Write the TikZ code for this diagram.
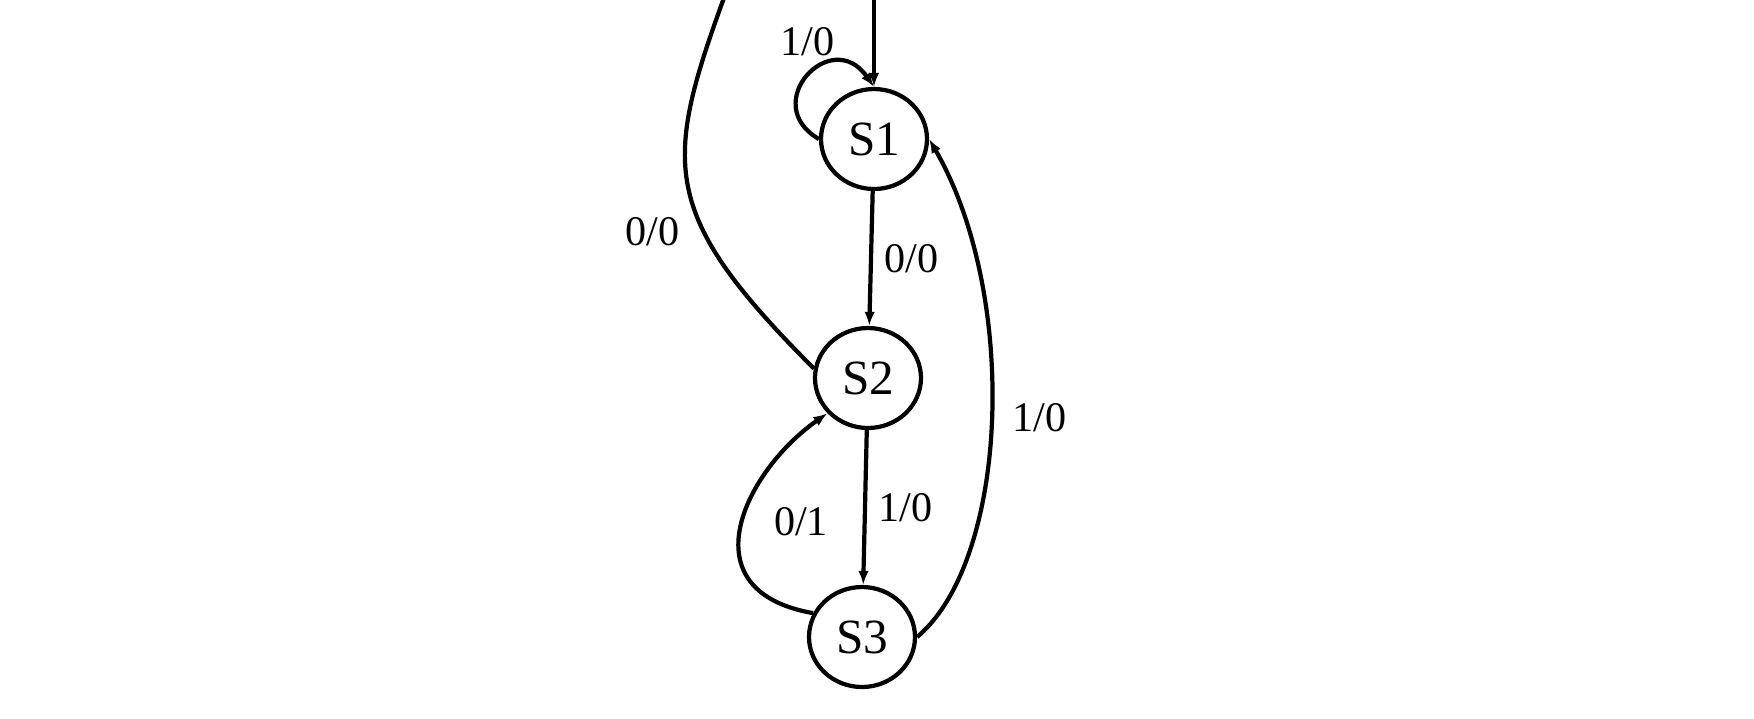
\documentclass[tikz,border=0pt]{standalone}
\usepackage{fontspec}
\setmainfont{Liberation Serif}
\usetikzlibrary{automata, arrows.meta, positioning, shapes.geometric}

\begin{document}
\begin{tikzpicture} [node distance = 2.39cm, on grid, auto,
  every state/.style = {ellipse, minimum width = 1.06cm, minimum height = 1cm,
    inner sep = 0pt, line width = 1.2pt, font = \fontsize{14}{16}\selectfont},
  font = \fontsize{12}{14}\selectfont]

\useasboundingbox (0,0) rectangle (17.54,-7.18);

\node (s1) [state] at (8.74,-1.39) {S1};
\node (s2) [state, below = of s1, xshift = -0.06cm] {S2};
\node (s3) [state, below = 2.59cm of s2, xshift = -0.06cm] {S3};

% ends at the top edge of the picture
\coordinate (in) at (8.74,0.5);
\coordinate (s0) at (7.25,0.05);

\path [-{Latex[length=4pt]}, line width=1.2pt]
  (in) edge (s1);
\path [-{Latex[length=4pt]}, line width=1.2pt]
  (s1.west) edge [out=150, in=125, out distance=0.7cm, in distance=0.75cm] node [pos=0.5, above=2pt] {1/0} (s1.north);
\path [-{Latex[length=4pt]}, line width=1.2pt]
  (s1) edge node {0/0} (s2);
\path [-{Latex[length=4pt]}, line width=1.2pt]
  (s2) edge node {1/0} (s3);
\path [line width=1.2pt]
  (s2.170) edge [out=135, in=250, out distance=2.2cm, in distance=1.8cm] node [pos=0.36, left=3pt] {0/0} (s0);
\path [-{Latex[length=4pt]}, line width=1.2pt]
  (s3.154) edge [out=170, in=215, out distance=1.3cm, in distance=1cm] node [pos=0.52, right=5pt] {0/1} (s2.221);
\path [-{Latex[length=4pt]}, line width=1.2pt]
  (s3.east) edge [out=40, in=-60, out distance=1.2cm, in distance=1.8cm] node [right=2pt] {1/0} (s1.east);

\end{tikzpicture}
\end{document}
